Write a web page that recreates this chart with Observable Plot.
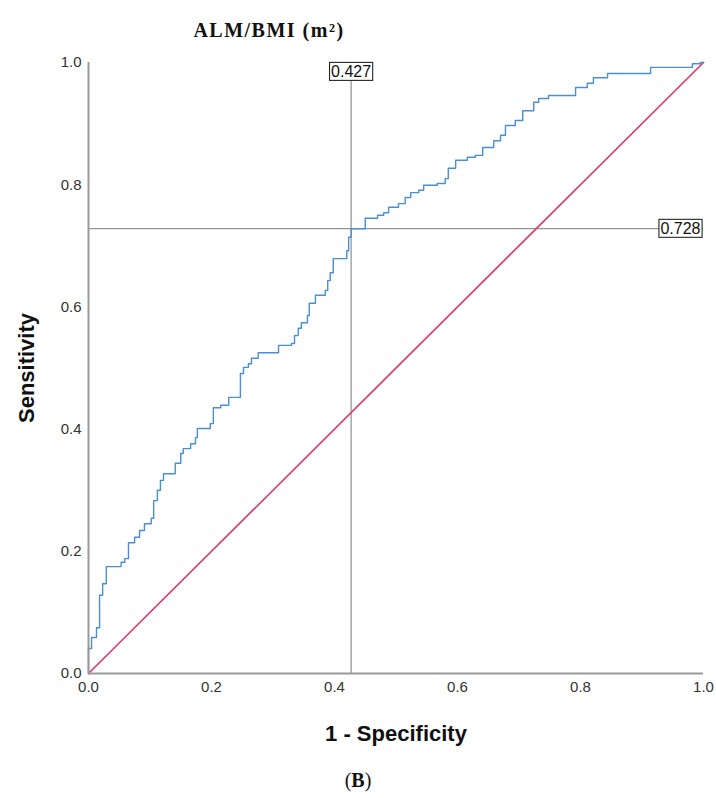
<!DOCTYPE html>
<html>
<head>
<meta charset="utf-8">
<script src="https://cdn.jsdelivr.net/npm/d3@7"></script>
<script src="https://cdn.jsdelivr.net/npm/@observablehq/plot@0.6"></script>
<style>
  html, body { margin: 0; padding: 0; background: #fff; }
  #wrap { position: relative; width: 716px; height: 798px; overflow: hidden; }
  #caption { position: absolute; left: 0; width: 716px; top: 769px; text-align: center;
    font-family: "Liberation Serif", "Times New Roman", serif; font-size: 20px; color: #111; }
</style>
</head>
<body>
<div id="wrap">
  <div id="chart"></div>
  <div id="caption">(<b>B</b>)</div>
</div>
<script>
// ---- data ----
const title = "ALM/BMI (m\u00B2)";
const xLabel = "1 - Specificity";
const yLabel = "Sensitivity";
const xTicks = [0, 0.2, 0.4, 0.6, 0.8, 1.0];
const yTicks = [0, 0.2, 0.4, 0.6, 0.8, 1.0];
const cutFPR = 0.427;   // vertical reference line (1 - specificity)
const cutTPR = 0.728;   // horizontal reference line (sensitivity)

const rocFPR = [0, 0, 0.005, 0.013, 0.018, 0.023, 0.029, 0.053, 0.059, 0.065, 0.075, 0.083, 0.091, 0.102,
  0.106, 0.112, 0.117, 0.122, 0.141, 0.150, 0.154, 0.166, 0.174, 0.177, 0.198, 0.203, 0.215, 0.228,
  0.247, 0.252, 0.260, 0.265, 0.276, 0.309, 0.330, 0.335, 0.341, 0.346, 0.356, 0.359, 0.369, 0.385,
  0.389, 0.393, 0.398, 0.420, 0.423, 0.427, 0.450, 0.470, 0.480, 0.488, 0.504, 0.515, 0.524, 0.537,
  0.545, 0.567, 0.580, 0.585, 0.597, 0.616, 0.629, 0.641, 0.659, 0.670, 0.678, 0.694, 0.706, 0.724,
  0.732, 0.748, 0.792, 0.811, 0.821, 0.844, 0.914, 0.982, 0.995, 1.0];
const rocTPR = [0, 0.041, 0.059, 0.075, 0.128, 0.147, 0.175, 0.182, 0.188, 0.214, 0.223, 0.234, 0.245, 0.254,
  0.283, 0.300, 0.316, 0.327, 0.344, 0.360, 0.368, 0.376, 0.386, 0.401, 0.409, 0.435, 0.439, 0.452,
  0.491, 0.501, 0.507, 0.516, 0.525, 0.537, 0.540, 0.553, 0.565, 0.574, 0.586, 0.606, 0.619, 0.627,
  0.643, 0.656, 0.679, 0.692, 0.714, 0.728, 0.745, 0.750, 0.754, 0.763, 0.769, 0.779, 0.787, 0.791,
  0.799, 0.802, 0.810, 0.827, 0.840, 0.845, 0.848, 0.861, 0.872, 0.881, 0.897, 0.905, 0.921, 0.935,
  0.941, 0.946, 0.959, 0.966, 0.975, 0.982, 0.992, 0.998, 1.0, 1.0];
const diagFPR = [0, 1];
const diagTPR = [0, 1];

// ---- build tables ----
const roc = rocFPR.map((x, i) => ({x, y: rocTPR[i]}));
const diag = diagFPR.map((x, i) => ({x, y: diagTPR[i]}));

const sans = "'Liberation Sans', Arial, sans-serif";
const fmt = d3.format(".1f");
const fmt3 = d3.format(".3f");

const plot = Plot.plot({
  width: 716,
  height: 766,
  marginLeft: 88,
  marginRight: 13,
  marginTop: 62,
  marginBottom: 93,
  style: {fontFamily: sans, background: "#fff", overflow: "visible"},
  x: {domain: [0, 1]},
  y: {domain: [0, 1]},
  marks: [
    Plot.ruleX([cutFPR], {y1: 0, y2: 1, stroke: "#7a7a7a", strokeWidth: 1}),
    Plot.ruleY([cutTPR], {x1: 0, x2: 1, stroke: "#7a7a7a", strokeWidth: 1}),
    Plot.line(diag, {x: "x", y: "y", stroke: "#dc3d6a", strokeWidth: 1.7}),
    Plot.line(roc, {x: "x", y: "y", curve: "step-after", stroke: "#4a8ed4", strokeWidth: 1.4}),
    Plot.ruleX([0], {stroke: "#9a9a9a", strokeWidth: 2}),
    Plot.ruleY([0], {stroke: "#9a9a9a", strokeWidth: 2}),
    Plot.axisX({ticks: xTicks, tickSize: 0, tickPadding: 8, tickFormat: fmt, fontSize: 15, fill: "#333", label: null}),
    Plot.axisY({ticks: yTicks, tickSize: 0, tickPadding: 7, tickFormat: fmt, fontSize: 15, fill: "#333", label: null}),
    Plot.text([cutFPR], {x: d => d, y: 1, text: d => fmt3(d), lineAnchor: "top", dy: 3,
      fontSize: 16, fill: "#111"}),
    Plot.text([cutTPR], {x: 1, y: d => d, text: d => fmt3(d), textAnchor: "end", dx: -3,
      fontSize: 16, fill: "#111"}),
    Plot.text([title], {text: d => d, frameAnchor: "top", dx: -127, dy: -40, fontSize: 20, fontWeight: "bold",
      fontFamily: "'Liberation Serif', 'Times New Roman', serif", fill: "#111"}),
    Plot.text([yLabel], {text: d => d, frameAnchor: "left", textAnchor: "middle", rotate: -90, dx: -62,
      fontSize: 22, fontWeight: "bold", fill: "#111"}),
    Plot.text([xLabel], {text: d => d, frameAnchor: "bottom", lineAnchor: "middle", dy: 60,
      fontSize: 22, fontWeight: "bold", fill: "#111"})
  ]
});
document.getElementById("chart").appendChild(plot);

const boxedTexts = [fmt3(cutFPR), fmt3(cutTPR)];
d3.select(plot).selectAll("text").each(function () {
  const s = this.textContent;
  if (s === title) { this.setAttribute("letter-spacing", "1.5"); return; }
  if (!boxedTexts.includes(s)) return;
  // white box with a black border behind the cut-off label
  const b = this.getBBox();
  const t = this.getAttribute("transform");
  const r = document.createElementNS("http://www.w3.org/2000/svg", "rect");
  r.setAttribute("x", b.x - 1.5);
  r.setAttribute("y", b.y - 0.5);
  r.setAttribute("width", b.width + 3);
  r.setAttribute("height", b.height + 1);
  if (t) r.setAttribute("transform", t);
  r.setAttribute("fill", "#fff");
  r.setAttribute("stroke", "#111");
  r.setAttribute("stroke-width", 1);
  this.parentNode.insertBefore(r, this);
});
</script>
</body>
</html>
